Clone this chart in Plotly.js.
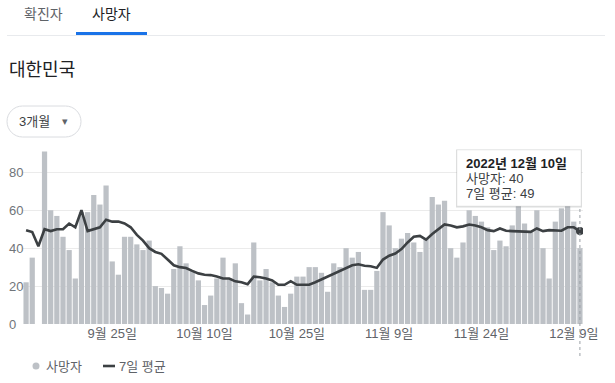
<!DOCTYPE html>
<html>
<head>
<meta charset="utf-8">
<script src="https://cdn.plot.ly/plotly-3.0.1.min.js"></script>
<style>
  html, body { margin: 0; padding: 0; background: #fff; }
  #chart { width: 615px; height: 383px; }
</style>
</head>
<body>
<div id="chart"></div>
<script>
// ---- data ----
const startDate = '2022-09-11';
const deaths = [22, 35, null, 91, 60, 57, 46, 39, 24, 59,
                59, 68, 63, 73, 33, 26, 46, 46, 42, 39,
                44, 20, 19, 16, 29, 41, 32, 28, 23, 10,
                15, 24, 35, 24, 32, 11, 5, 43, 23, 29,
                22, 15, 9, 16, 25, 25, 30, 30, 27, 17,
                32, 30, 40, 35, 38, 18, 18, 28, 59, 52,
                40, 45, 48, 43, 38, 45, 67, 63, 65, 40,
                35, 43, 60, 57, 54, 51, 39, 44, 41, 52,
                67, 53, 49, 60, 40, 24, 54, 61, 71, 54, 40];
const avg7 = [49.5, 48.5, 41, 50, 49, 50, 50, 53, 51, 60,
              49, 50, 51, 55, 54, 54, 53, 51, 47, 44,
              40, 38, 37, 34, 31, 30, 29.5, 28, 26.7, 26,
              25.8, 25, 24, 24, 22.5, 22, 21, 25, 24.7, 24,
              23, 20.7, 20.7, 22.6, 20.7, 20.7, 20.7, 22, 23.5, 24.7,
              26.5, 28, 29.5, 31, 31.5, 30.7, 30.5, 29.6, 34, 36,
              37.2, 39.5, 43, 46, 46.5, 44.5, 47.5, 50, 52.5, 52,
              51, 51.5, 52.5, 52, 51, 49.5, 49, 50.4, 49.2, 49,
              49, 49, 48.6, 50.4, 49, 49.5, 49.5, 49.2, 51, 51, 49];
const tickDates = ['2022-09-25', '2022-10-10', '2022-10-25', '2022-11-09', '2022-11-24', '2022-12-09'];
const tickLabels = ['9월 25일', '10월 10일', '10월 25일', '11월 9일', '11월 24일', '12월 9일'];
const yTicks = [0, 20, 40, 60, 80];
const tabLabels = ['확진자', '사망자'];
const regionName = '대한민국';
const rangeLabel = '3개월';
const seriesNames = ['사망자', '7일 평균'];
const tipTitle = '2022년 12월 10일';

// category dates
const dates = [];
{
  const t0 = Date.parse(startDate + 'T00:00:00Z');
  for (let i = 0; i < deaths.length; i++) {
    dates.push(new Date(t0 + i * 86400000).toISOString().slice(0, 10));
  }
}
const lastIdx = dates.length - 1;

// ---- layout geometry ----
const W = 615, H = 383;
const M = { l: 23, r: 32, t: 134, b: 59 };
const PW = W - M.l - M.r, PH = H - M.t - M.b;
const px = x => (x - M.l) / PW;
const py = y => (H - M.b - y) / PH;

const FONT = 'Arial, "Liberation Sans", "Noto Sans CJK KR", sans-serif';
const GREY = '#5f6368', DARK = '#202124', BAR = '#bdc1c6', LINE = '#3c4043';

function pill(x0, y0, x1, y1, r) {
  const k = 0.5523 * r;
  const P = (x, y) => px(x) + ',' + py(y);
  return 'M' + P(x0 + r, y0) + ' L' + P(x1 - r, y0) +
    ' C' + P(x1 - r + k, y0) + ' ' + P(x1, y0 + r - k) + ' ' + P(x1, y0 + r) +
    ' L' + P(x1, y1 - r) +
    ' C' + P(x1, y1 - r + k) + ' ' + P(x1 - r + k, y1) + ' ' + P(x1 - r, y1) +
    ' L' + P(x0 + r, y1) +
    ' C' + P(x0 + r - k, y1) + ' ' + P(x0, y1 - r + k) + ' ' + P(x0, y1 - r) +
    ' L' + P(x0, y0 + r) +
    ' C' + P(x0, y0 + r - k) + ' ' + P(x0 + r - k, y0) + ' ' + P(x0 + r, y0) + ' Z';
}

const traces = [
  {
    type: 'bar', x: dates, y: deaths, name: seriesNames[0],
    marker: { color: BAR }, hoverinfo: 'skip'
  },
  {
    type: 'scatter', mode: 'lines', x: dates, y: avg7, name: seriesNames[1],
    line: { color: LINE, width: 2.6, shape: 'linear' }, hoverinfo: 'skip'
  },
  {
    type: 'scatter', mode: 'markers', x: [dates[lastIdx]], y: [avg7[lastIdx]],
    marker: { color: LINE, size: 8 }, hoverinfo: 'skip', showlegend: false
  }
];

const annotations = [];
const ann = (text, x, y, opts) => annotations.push(Object.assign({
  text, xref: 'paper', yref: 'paper', x: px(x), y: py(y),
  xanchor: 'left', yanchor: 'middle', showarrow: false,
  font: { family: FONT, size: 13, color: GREY }
}, opts || {}));

// tabs
ann(tabLabels[0], 43, 14, { xanchor: 'center', font: { family: FONT, size: 14, color: GREY } });
ann(tabLabels[1], 111.5, 14, { xanchor: 'center', font: { family: FONT, size: 14, color: DARK } });
// title
ann(regionName, 7, 70, { font: { family: FONT, size: 18, color: DARK } });
// range pill
ann(rangeLabel, 17, 121.5, { font: { family: FONT, size: 13, color: '#3c4043' } });
ann('▾', 60, 121, { font: { family: FONT, size: 11, color: GREY } });
// y tick labels
yTicks.forEach(v => annotations.push({
  text: String(v), xref: 'paper', yref: 'y', x: px(7), y: v,
  xanchor: 'left', yanchor: 'middle', showarrow: false,
  font: { family: FONT, size: 13, color: '#70757a' }
}));
// legend
ann(seriesNames[0], 44, 366, { font: { family: FONT, size: 13, color: GREY } });
ann(seriesNames[1], 117, 366, { font: { family: FONT, size: 13, color: GREY } });
// tooltip
ann('<b>' + tipTitle + '</b>', 464, 163, { font: { family: FONT, size: 13, color: DARK } });
ann(seriesNames[0] + ': ' + deaths[lastIdx], 464, 178.5, { font: { family: FONT, size: 13, color: '#3c4043' } });
ann(seriesNames[1] + ': ' + avg7[lastIdx], 464, 193.5, { font: { family: FONT, size: 13, color: '#3c4043' } });

const shapes = [
  // tab divider and active underline
  { type: 'line', xref: 'paper', yref: 'paper', x0: px(7), x1: px(605), y0: py(35.5), y1: py(35.5),
    line: { color: '#e8eaed', width: 1 } },
  { type: 'rect', xref: 'paper', yref: 'paper', x0: px(76), x1: px(147), y0: py(32), y1: py(35),
    fillcolor: '#1a73e8', line: { width: 0 } },
  // range pill
  { type: 'path', xref: 'paper', yref: 'paper', path: pill(7, 106, 81, 137, 15.5),
    fillcolor: 'rgba(0,0,0,0)', line: { color: '#dadce0', width: 1 } },
  // legend marks
  { type: 'circle', xref: 'paper', yref: 'paper', x0: px(32.5), x1: px(39.5), y0: py(362.5), y1: py(369.5),
    fillcolor: BAR, line: { width: 0 } },
  { type: 'line', xref: 'paper', yref: 'paper', x0: px(103), x1: px(115), y0: py(366), y1: py(366),
    line: { color: LINE, width: 2.6 } },
  // hover guide line
  { type: 'line', xref: 'x', yref: 'paper', x0: dates[lastIdx], x1: dates[lastIdx], y0: py(356), y1: py(150),
    line: { color: '#9aa0a6', width: 1, dash: 'dot' }, layer: 'above' },
  // tooltip shadow + box
  { type: 'rect', xref: 'paper', yref: 'paper', x0: px(456), x1: px(582), y0: py(207.5), y1: py(149.5),
    fillcolor: 'rgba(60,64,67,0.18)', line: { width: 0 }, layer: 'above' },
  { type: 'rect', xref: 'paper', yref: 'paper', x0: px(457), x1: px(581), y0: py(206), y1: py(150),
    fillcolor: '#ffffff', line: { color: '#e0e0e0', width: 0.5 }, layer: 'above' }
];

const layout = {
  width: W, height: H,
  margin: M,
  paper_bgcolor: '#ffffff', plot_bgcolor: '#ffffff',
  showlegend: false,
  hovermode: false,
  bargap: 0.15,
  font: { family: FONT, size: 13, color: GREY },
  xaxis: {
    type: 'date',
    range: ['2022-09-10 12:00', '2022-12-10 12:00'],
    tickmode: 'array', tickvals: tickDates, ticktext: tickLabels,
    ticks: '', showgrid: false, zeroline: false, showline: false,
    tickfont: { family: FONT, size: 13, color: GREY },
    fixedrange: true
  },
  yaxis: {
    range: [0, PH / 1.896],
    tickmode: 'array', tickvals: yTicks,
    showticklabels: false, ticks: '',
    showgrid: true, gridcolor: '#ebebeb', gridwidth: 1,
    zeroline: false, showline: false, fixedrange: true
  },
  annotations, shapes
};

Plotly.newPlot('chart', traces, layout, { displayModeBar: false, staticPlot: true });
</script>
</body>
</html>
